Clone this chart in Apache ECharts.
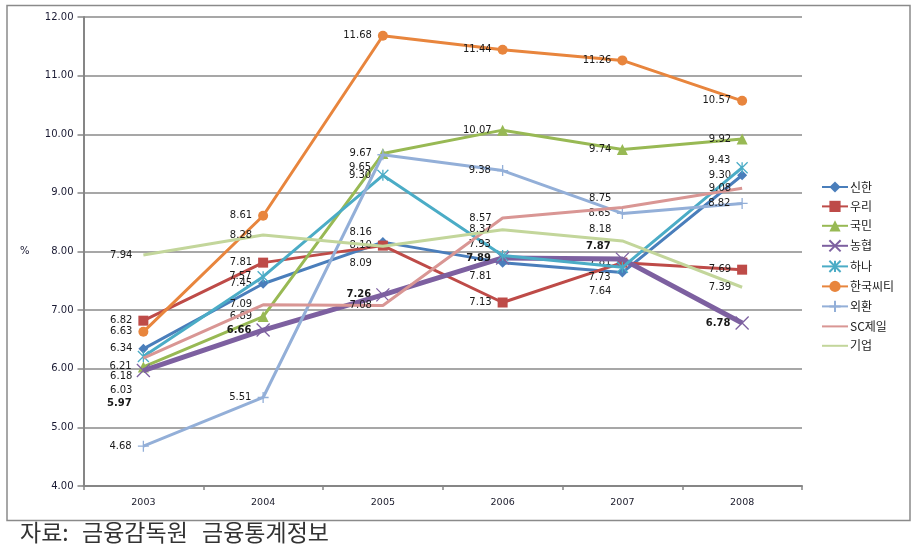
<!DOCTYPE html>
<html>
<head>
<meta charset="utf-8">
<script src="https://cdn.jsdelivr.net/npm/echarts@6/dist/echarts.min.js"></script>
<style>
html,body{margin:0;padding:0;background:#fff;}
#chart{width:915px;height:560px;}
</style>
</head>
<body>
<div id="chart"></div>
<script>
// ---- data ----
const years = ['2003', '2004', '2005', '2006', '2007', '2008'];
const yTicks = [4, 5, 6, 7, 8, 9, 10, 11, 12];
const seriesNames = ['신한', '우리', '국민', '농협', '하나', '한국씨티', '외환', 'SC제일', '기업'];
const shinhan  = [6.34, 7.45, 8.16, 7.81, 7.64, 9.30];
const woori    = [6.82, 7.81, 8.10, 7.13, 7.81, 7.69];
const kookmin  = [6.03, 6.89, 9.67, 10.07, 9.74, 9.92];
const nonghyup = [5.97, 6.66, 7.26, 7.89, 7.87, 6.78];
const hana     = [6.21, 7.57, 9.30, 7.93, 7.73, 9.43];
const citi     = [6.63, 8.61, 11.68, 11.44, 11.26, 10.57];
const keb      = [4.68, 5.51, 9.65, 9.38, 8.65, 8.82];
const scfirst  = [6.18, 7.09, 7.08, 8.57, 8.75, 9.08];
const ibk      = [7.94, 8.28, 8.09, 8.37, 8.18, 7.39];
const sourceParts = ['자료:', '금융감독원', '금융통계정보'];

// ---- styles (kept separate from data) ----
const values = [shinhan, woori, kookmin, nonghyup, hana, citi, keb, scfirst, ibk];
const colors = ['#4A7EBB', '#BE4B48', '#98B954', '#7D60A0', '#4BACC6', '#E8853D', '#93AFD8', '#D99694', '#C3D69B'];
const X_PATH = 'path://M0,0L10,10M10,0L0,10';
const STAR_PATH = 'path://M0,0L10,10M10,0L0,10M5,0L5,10';
const PLUS_PATH = 'path://M5,0L5,10M0,5L10,5';
const symbols = ['diamond', 'rect', 'triangle', X_PATH, STAR_PATH, 'circle', PLUS_PATH, 'circle', 'circle'];
const symSizes = [10, 10, 11, 13, 11, 10, 11, 1, 1];
const lineWidths = [3, 3, 3, 5, 3, 3, 3, 3, 3];
const stroked = [false, false, false, true, true, false, true, false, false];
const hiddenSym = [false, false, false, false, false, false, false, true, true];
// per-point label vertical displacement [seriesIndex, pointIndex, dy]
const labelShift = [
  [4, 0, 10], [7, 0, 18], [2, 0, 23], [3, 0, 33],
  [6, 2, 13], [0, 2, -10], [8, 2, 17],
  [4, 3, -11], [0, 3, 14],
  [7, 4, -9], [8, 4, -12], [3, 4, -13], [4, 4, 10], [0, 4, 19],
  [4, 5, -7]
];
const sourceX = [20, 82, 202];

const series = seriesNames.map((name, si) => {
  const data = values[si].map((v, pi) => {
    const sh = labelShift.find(s => s[0] === si && s[1] === pi);
    const item = { value: v };
    if (sh) item.label = { offset: [0, sh[2]] };
    return item;
  });
  const col = colors[si];
  return {
    name: name,
    type: 'line',
    data: data,
    symbol: symbols[si],
    symbolSize: symSizes[si],
    showAllSymbol: true,
    z: 2 + si,
    lineStyle: { color: col, width: lineWidths[si] },
    itemStyle: hiddenSym[si]
      ? { color: 'rgba(0,0,0,0)', borderWidth: 0 }
      : stroked[si]
        ? { color: col, borderColor: col, borderWidth: 1.3 }
        : { color: col, borderWidth: 0 },
    label: {
      show: true,
      position: 'left',
      distance: Math.max(2, 11 - symSizes[si] / 2),
      formatter: p => Number(p.value).toFixed(2),
      color: '#1a1a1a',
      fontFamily: 'DejaVu Sans',
      fontSize: 10,
      fontWeight: si === 3 ? 'bold' : 'normal'
    },
    emphasis: { disabled: true }
  };
});

const graphics = [
  { type: 'rect', shape: { x: 7, y: 5.5, width: 903, height: 515 },
    style: { fill: 'none', stroke: '#8a8a8a', lineWidth: 1.5 }, silent: true, z: -1 },
  { type: 'text', left: 20, top: 246,
    style: { text: '%', fontFamily: 'DejaVu Sans', fontSize: 10, fill: '#1a1a33' } }
];
sourceParts.forEach((t, i) => {
  graphics.push({ type: 'text', left: sourceX[i], top: 521,
    style: { text: t, fontFamily: 'Noto Sans CJK KR', fontSize: 23, fill: '#333' } });
});

const chart = echarts.init(document.getElementById('chart'), null, { renderer: 'canvas' });
chart.setOption({
  animation: false,
  backgroundColor: '#ffffff',
  grid: { left: 83.5, right: 113, top: 17, bottom: 74, containLabel: false },
  legend: {
    orient: 'vertical',
    left: 821,
    top: 181,
    padding: 0,
    itemWidth: 26,
    itemHeight: 14,
    itemGap: 7.4,
    textStyle: { fontFamily: 'Noto Sans CJK KR', fontSize: 12, color: '#222', padding: [0, 0, 0, -3] },
    data: seriesNames
  },
  xAxis: {
    type: 'category',
    data: years,
    boundaryGap: true,
    axisLine: { lineStyle: { color: '#868686', width: 2 } },
    axisTick: { show: true, length: 4, lineStyle: { color: '#868686', width: 1.5 } },
    axisLabel: { margin: 12, fontFamily: 'DejaVu Sans', fontSize: 9.5, color: '#1a1a2a' },
    splitLine: { show: false }
  },
  yAxis: {
    type: 'value',
    min: 4, max: 12, interval: 1,
    axisLine: { show: true, lineStyle: { color: '#868686', width: 2 } },
    axisTick: { show: true, length: 6, lineStyle: { color: '#868686', width: 1.5 } },
    axisLabel: { margin: 10, fontFamily: 'DejaVu Sans', fontSize: 10, color: '#1a1a33',
      formatter: v => Number(v).toFixed(2) },
    splitLine: { show: true, lineStyle: { color: '#8a8a8a', width: 1.5 } }
  },
  series: series,
  graphic: graphics
});
</script>
</body>
</html>
